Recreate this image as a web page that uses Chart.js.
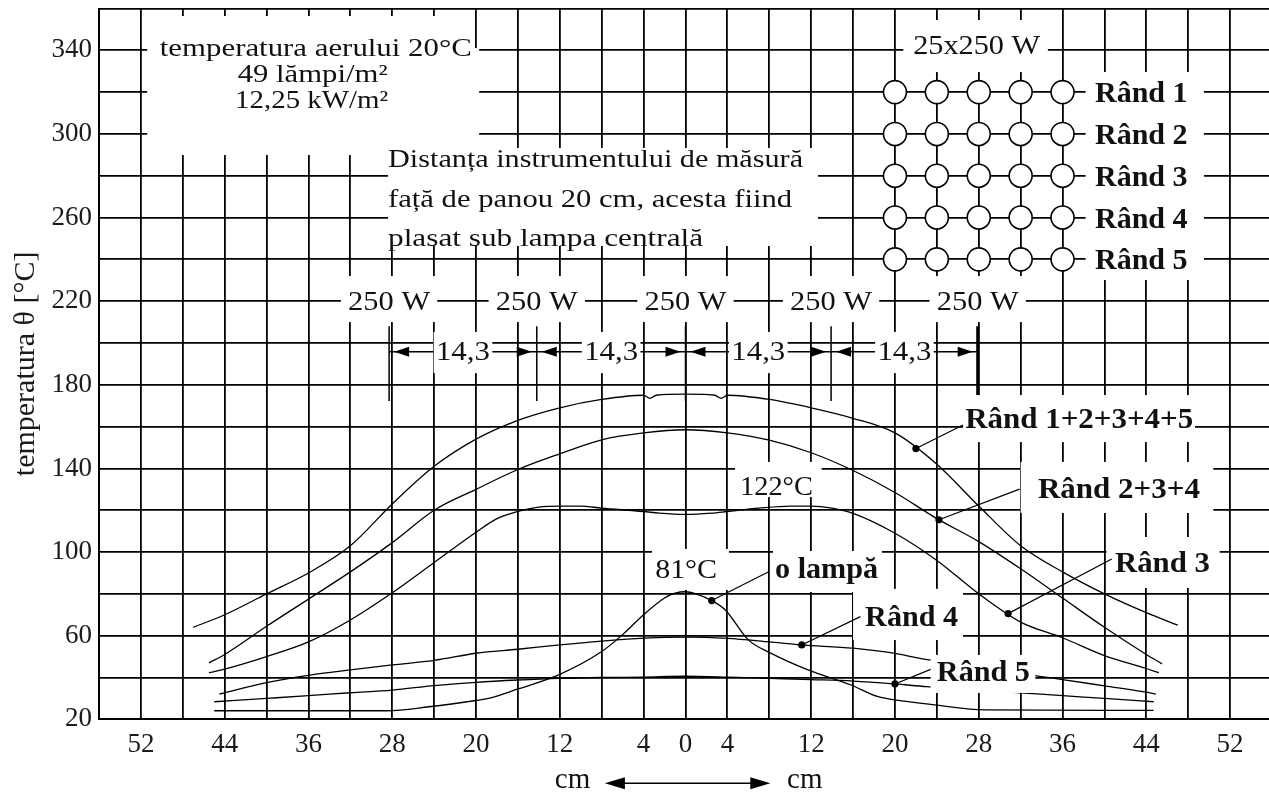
<!DOCTYPE html>
<html>
<head>
<meta charset="utf-8">
<script src="https://cdn.jsdelivr.net/npm/chart.js@4/dist/chart.umd.min.js"></script>
<style>
  html, body { margin: 0; padding: 0; background: #fff; overflow: hidden; }
  #wrap { width: 1274px; height: 794px; }
</style>
</head>
<body>
<div id="wrap"><canvas id="c" width="1274" height="794"></canvas></div>
<script>
// Distance from the centre lamp [cm] and measured temperature [°C], one pair of arrays per curve
const posAll  = [-47,-44,-40,-36,-32,-28,-24,-20,-16,-12,-8,-4,-3.4,-2.8,0,2.8,3.4,4,8,12,16,20,24,28,32,36,40,44,47];
const tempAll = [64,70,80,90,103,123,141,154,163,169,173,175,173.5,175,175.5,175,173.5,175,173,169,164,157,142,122,103,90.5,80,71,65];

const pos234  = [-45.5,-44,-40,-36,-32,-28,-24,-20,-16,-12,-8,-4,0,4,8,12,16,20,24,28,32,36,40,44,45.5];
const temp234 = [47,51,64.5,77.5,90.5,104.5,120,130,139.5,147,153.7,157,158.5,157,153.5,147.5,139,128.5,116,105,92,78,64,51,46.5];

const pos3  = [-45.5,-44,-40,-36,-32,-28,-24,-20,-18,-16,-14,-12,-10,-8,-4,-2.5,0,2.5,4,7,10,12,14,16,20,24,28,32,36,40,44,45.2];
const temp3 = [42.3,44,50,57,67.5,80.5,95,109.5,116,119.5,121.5,122,122,121,119.4,118.6,118,118.6,119.4,121,122,122,121,118.5,109,96,80,66.5,59,50.5,44.3,42.3];

const pos4  = [-44.5,-40,-36,-32,-28,-24,-20,-16,-12,-8,-4,0,4,8,11,16,20,22.5,26,30,34,36,40,44,44.9];
const temp4 = [32.1,37.5,41,43.6,46,48.2,51.6,53.5,55.6,57.4,58.8,59.3,58.7,57,55.6,54,51.5,49,46.5,43.5,40.4,39,36,33,32.1];

const pos5  = [-45,-40,-36,-32,-28,-24,-20,-16,-12,-8,-4,0,4,8,12,16,20,23,28,32.8,36,40,44.7];
const temp5 = [28.4,30,31.3,32.7,34,36.1,37.7,38.8,39.6,40,40.2,40.6,40.2,39.6,39,38.3,36.9,35.6,34,32.4,31.3,30,28.4];

const posOne  = [-45,-28.5,-24.5,-20,-18.8,-16,-12,-8,-6,-4,-2,-1,0,1,2.5,3.8,6,8,11.7,15.8,18.4,20,24,28.5,44.7];
const tempOne = [24.1,24.1,26,29,30,34.5,41.5,52.4,60.5,70,78,80.3,81,80,76.8,72.3,58,52,43.6,36.4,30.8,29.3,26.8,24.5,24.3];

// Axis tick labels
const xLabelled = [-52,-44,-36,-28,-20,-12,-4,0,4,12,20,28,36,44,52];
const yLabelled = [20,60,100,140,180,220,260,300,340];

// Lamp row above the curves and the 5 x 5 lamp panel
const lampPos = [-28.3,-14.2,0,13.9,27.9];
const lampPower = '250 W';
const lampSpacing = '14,3';
const panelCols = [20,24,28,32,36];
const panelRows = [320,300,280,260,240];
const rowNames = ['Rând 1','Rând 2','Rând 3','Rând 4','Rând 5'];

const SERIF = "'Liberation Serif','Times New Roman',serif";

function toPoints(xs, ys) { return xs.map((x, i) => ({ x: x, y: ys[i] })); }
function interp(xs, ys, x) {
  for (let i = 0; i < xs.length - 1; i++) {
    if (x >= xs[i] && x <= xs[i + 1]) {
      return ys[i] + (ys[i + 1] - ys[i]) * (x - xs[i]) / (xs[i + 1] - xs[i]);
    }
  }
  return ys[ys.length - 1];
}

// text drawn to a given overall width
function fitText(ctx, s, x, y, size, width, align, bold) {
  ctx.font = (bold ? 'bold ' : '') + size + 'px ' + SERIF;
  const w = ctx.measureText(s).width;
  const k = width ? width / w : 1;
  ctx.save();
  ctx.translate(x, y);
  ctx.scale(k, 1);
  ctx.textAlign = align;
  ctx.textBaseline = 'alphabetic';
  ctx.fillStyle = '#111';
  ctx.fillText(s, 0, 0);
  ctx.restore();
}

const overlay = {
  id: 'overlay',
  afterDatasetsDraw(chart) {
    const ctx = chart.ctx, sx = chart.scales.x, sy = chart.scales.y;
    const X = v => sx.getPixelForValue(v), Y = v => sy.getPixelForValue(v);
    ctx.save();
    ctx.strokeStyle = '#000';
    ctx.fillStyle = '#000';

    // dimension line between the lamps
    const dimY = Y(195.8);
    ctx.lineWidth = 1.5;
    ctx.beginPath();
    ctx.moveTo(X(lampPos[0]), dimY);
    ctx.lineTo(X(lampPos[lampPos.length - 1]), dimY);
    ctx.stroke();
    lampPos.forEach((p, i) => {
      ctx.lineWidth = i === lampPos.length - 1 ? 3 : 1.5;
      ctx.beginPath();
      ctx.moveTo(X(p), Y(208));
      ctx.lineTo(X(p), Y(172.3));
      ctx.stroke();
    });
    for (let i = 0; i < lampPos.length - 1; i++) {
      const a = X(lampPos[i]) + 5, b = X(lampPos[i + 1]) - 5;
      ctx.beginPath();
      ctx.moveTo(a, dimY); ctx.lineTo(a + 15, dimY - 5); ctx.lineTo(a + 15, dimY + 5); ctx.closePath(); ctx.fill();
      ctx.beginPath();
      ctx.moveTo(b, dimY); ctx.lineTo(b - 15, dimY - 5); ctx.lineTo(b - 15, dimY + 5); ctx.closePath(); ctx.fill();
    }

    // white panels behind the labels
    const panels = [
      [-51.4, -20.2, 289.9, 356.4],
      [-20.6, -19.7, 292.3, 341.1],
      [-28.4, 12.65, 246.4, 293.3],
      [20.8, 34.6, 329.6, 354.5],
      [38.2, 49.5, 230.1, 329.6],
      [26.5, 48.65, 152.6, 175.1],
      [32.0, 50.4, 118.7, 143.1],
      [40.2, 51.0, 82.8, 107.2],
      [8.35, 18.76, 80.9, 100.5],
      [-3.2, 4.15, 81.9, 101.5],
      [4.73, 13.0, 126.3, 143.1],
      [16.0, 26.5, 57.9, 82.4],
      [23.4, 33.4, 32.6, 50.8]
    ];
    lampPos.forEach(p => panels.push([p - 4.6, p + 4.6, 210, 232]));
    const mids = [];
    for (let i = 0; i < lampPos.length - 1; i++) mids.push((lampPos[i] + lampPos[i + 1]) / 2);
    mids.forEach(m => panels.push([m - 2.8, m + 2.8, 185.6, 205.3]));
    ctx.fillStyle = '#fff';
    panels.forEach(([x1, x2, t1, t2]) => {
      ctx.fillRect(X(x1), Y(t2), X(x2) - X(x1), Y(t1) - Y(t2));
    });

    // notes
    fitText(ctx, 'temperatura aerului 20°C', X(-35.3), Y(337.2), 25, 312, 'center');
    fitText(ctx, '49 lămpi/m²', X(-35.6), Y(324.8), 25, 150, 'center');
    fitText(ctx, '12,25 kW/m²', X(-35.7), Y(312.6), 25, 153, 'center');
    fitText(ctx, 'Distanța instrumentului de măsură', X(-28.4), Y(284.2), 25, 415, 'left');
    fitText(ctx, 'față de panou 20 cm, acesta fiind', X(-28.4), Y(265.1), 25, 404, 'left');
    fitText(ctx, 'plasat sub lampa centrală', X(-28.4), Y(246.4), 25, 315, 'left');
    fitText(ctx, '25x250 W', X(27.8), Y(338.2), 28, 127, 'center');
    fitText(ctx, '122°C', X(5.2), Y(127.3), 28, 73, 'left');
    fitText(ctx, '81°C', X(-2.9), Y(87.6), 28, 62, 'left');
    lampPos.forEach(p => fitText(ctx, lampPower, X(p), Y(215.8), 28, 82, 'center'));
    mids.forEach(m => fitText(ctx, lampSpacing, X(m), Y(191.9), 28, 54, 'center'));

    // curve names
    fitText(ctx, 'Rând 1+2+3+4+5', X(26.7), Y(159.4), 30, 228, 'left', true);
    fitText(ctx, 'Rând 2+3+4', X(33.65), Y(125.9), 30, 162, 'left', true);
    fitText(ctx, 'Rând 3', X(41.0), Y(90.5), 30, 95, 'left', true);
    fitText(ctx, 'Rând 4', X(17.15), Y(64.6), 30, 93, 'left', true);
    fitText(ctx, 'Rând 5', X(24.0), Y(38.3), 30, 93, 'left', true);
    fitText(ctx, 'o lampă', X(8.55), Y(87.6), 30, 103, 'left', true);

    // lamp panel
    ctx.lineWidth = 1.6;
    ctx.strokeStyle = '#000';
    panelRows.forEach((r, j) => {
      panelCols.forEach(c => {
        ctx.beginPath();
        ctx.arc(X(c), Y(r), 11.5, 0, Math.PI * 2);
        ctx.fillStyle = '#fff';
        ctx.fill();
        ctx.stroke();
      });
      fitText(ctx, rowNames[j], X(39.1), Y(r) + 10, 30, 0, 'left', true);
    });

    // pointers from the names to their curves
    const pointers = [
      [posAll, tempAll, 22, 26.5, 160.8],
      [pos234, temp234, 24.2, 31.9, 130.1],
      [pos3, temp3, 30.8, 40.7, 96.7],
      [pos4, temp4, 11.1, 16.7, 69.1],
      [pos5, temp5, 20, 23.4, 43.9],
      [posOne, tempOne, 2.5, 7.9, 90.5]
    ];
    ctx.lineWidth = 1.2;
    ctx.fillStyle = '#000';
    pointers.forEach(([xs, ys, dx, ex, et]) => {
      const px = X(dx), py = Y(interp(xs, ys, dx));
      ctx.beginPath();
      ctx.moveTo(px, py);
      ctx.lineTo(X(ex), Y(et));
      ctx.stroke();
      ctx.beginPath();
      ctx.arc(px, py, 3.6, 0, Math.PI * 2);
      ctx.fill();
    });

    // direction marks under the distance axis
    const ay = chart.chartArea.bottom + 64;
    const ax1 = X(-7.7), ax2 = X(8.1);
    ctx.lineWidth = 1.5;
    ctx.beginPath(); ctx.moveTo(ax1 + 10, ay); ctx.lineTo(ax2 - 10, ay); ctx.stroke();
    ctx.beginPath(); ctx.moveTo(ax1, ay); ctx.lineTo(ax1 + 20, ay - 6); ctx.lineTo(ax1 + 20, ay + 6); ctx.closePath(); ctx.fill();
    ctx.beginPath(); ctx.moveTo(ax2, ay); ctx.lineTo(ax2 - 20, ay - 6); ctx.lineTo(ax2 - 20, ay + 6); ctx.closePath(); ctx.fill();
    fitText(ctx, 'cm', X(-9.1), chart.chartArea.bottom + 69, 29, 0, 'right');
    fitText(ctx, 'cm', X(9.7), chart.chartArea.bottom + 69, 29, 0, 'left');

    ctx.restore();
  }
};

const line = (xs, ys) => ({
  data: toPoints(xs, ys),
  borderColor: '#000',
  borderWidth: 1.3,
  pointRadius: 0,
  fill: false,
  cubicInterpolationMode: 'monotone'
});

new Chart(document.getElementById('c'), {
  type: 'line',
  data: {
    datasets: [
      line(posAll, tempAll),
      line(pos234, temp234),
      line(pos3, temp3),
      line(pos4, temp4),
      line(pos5, temp5),
      line(posOne, tempOne)
    ]
  },
  options: {
    responsive: false,
    animation: false,
    devicePixelRatio: 1,
    layout: { padding: { top: 8.5, right: 2, left: 0, bottom: 0 } },
    plugins: { legend: { display: false }, tooltip: { enabled: false } },
    scales: {
      x: {
        type: 'linear',
        min: -56, max: 56,
        afterFit(s) { s.height = 74.7; s.paddingLeft = 0; s.paddingRight = 0; },
        ticks: {
          stepSize: 4, autoSkip: false, maxRotation: 0, padding: 9,
          color: '#1a1a1a',
          font: { family: SERIF, size: 27 },
          callback: v => xLabelled.includes(v) ? String(Math.abs(v)) : ''
        },
        grid: { color: '#000', lineWidth: 1.8, drawTicks: false },
        border: { display: true, color: '#000', width: 2 }
      },
      y: {
        min: 20, max: 360,
        afterFit(s) { s.width = 99; s.paddingTop = 0; s.paddingBottom = 0; },
        ticks: {
          stepSize: 20, autoSkip: false, padding: 7,
          color: '#1a1a1a',
          font: { family: SERIF, size: 27 },
          callback: v => yLabelled.includes(v) ? String(v) : ''
        },
        grid: { color: '#000', lineWidth: 1.8, drawTicks: false },
        border: { display: true, color: '#000', width: 2 },
        title: {
          display: true,
          text: 'temperatura θ [°C]',
          color: '#1a1a1a',
          font: { family: SERIF, size: 30 },
          padding: { top: 8, bottom: 0 }
        }
      }
    }
  },
  plugins: [overlay]
});
</script>
</body>
</html>
